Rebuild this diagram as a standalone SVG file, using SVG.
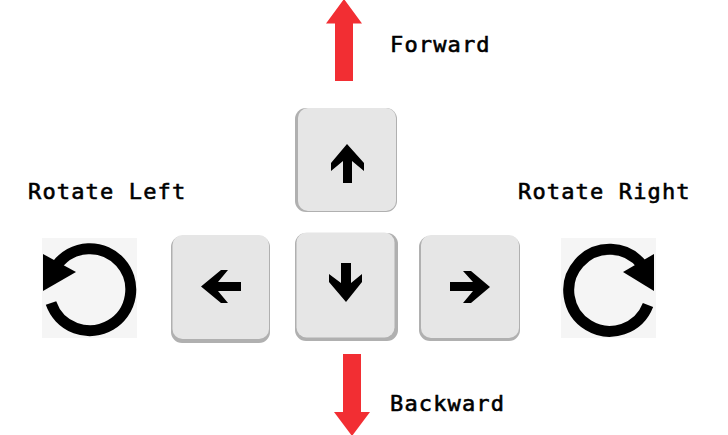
<svg xmlns="http://www.w3.org/2000/svg" width="728" height="435" viewBox="0 0 728 435">
<defs>
<style>
.label{font-family:"DejaVu Sans Mono","Liberation Mono",monospace;font-size:22px;letter-spacing:1.15px;fill:#000;stroke:#000;stroke-width:.6px}
.red{fill:#f22e33}
.edge{fill:#b0b0b0}
.face{fill:#e6e6e6}
.glyph{fill:#000;filter:url(#soft)}
.panel{fill:#f5f5f5}
.ring{fill:none;stroke:#000;stroke-width:11}
</style>
<filter id="soft" x="-10%" y="-10%" width="120%" height="120%"><feGaussianBlur stdDeviation=".6"/></filter>
<filter id="softer" x="-5%" y="-5%" width="110%" height="110%"><feGaussianBlur stdDeviation=".7"/></filter>
</defs>
<rect width="728" height="435" fill="#fff"/>
<g id="connectors">
<polygon class="red" points="335,81 353,81 353,23.500 362,23.500 344,-1 326,23.500 335,23.500"/>
<polygon class="red" points="343,354 361,354 361,412 370,412 352,436 334,412 343,412"/>
</g>
<g id="forward-label"><text class="label" x="390" y="52">Forward</text></g>
<g id="backward-label"><text class="label" x="390" y="411">Backward</text></g>
<g id="rotate-left-label"><text class="label" x="28" y="199">Rotate Left</text></g>
<g id="rotate-right-label"><text class="label" x="518" y="199">Rotate Right</text></g>
<g id="key-up">
<rect class="edge" x="295" y="108" width="102" height="104" rx="11" filter="url(#softer)"/>
<rect class="face" x="298" y="108" width="98" height="103" rx="10"/>
<path class="glyph" d="M343 183V161L331 171V163L347 144L364 163V171L352 161V183Z"/>
</g>
<g id="key-left">
<rect class="edge" x="171" y="236" width="99" height="107" rx="11" filter="url(#softer)"/>
<rect class="face" x="172.500" y="235" width="96.500" height="104" rx="10"/>
<path class="glyph" d="M201 286.500L221 270H228L218 282H241V291H218L228 303H221Z"/>
</g>
<g id="key-down">
<rect class="edge" x="295" y="233" width="103" height="108" rx="11" filter="url(#softer)"/>
<rect class="face" x="296.500" y="232.500" width="98" height="105" rx="10"/>
<path class="glyph" d="M341 263H351V283L362 274V282L346 302L329 282V274L341 283Z"/>
</g>
<g id="key-right">
<rect class="edge" x="419" y="236" width="101" height="105" rx="11" filter="url(#softer)"/>
<rect class="face" x="421" y="235" width="98" height="103" rx="10"/>
<path class="glyph" d="M450 282H473L463 271H471L490 287L471 303H463L473 291H450Z"/>
</g>
<g id="rotate-left">
<rect class="panel" x="42" y="238" width="95" height="100"/>
<path class="ring" d="M51 303A41 41 0 1 0 57 265"/>
<polygon points="43,254 43,291 76,272"/>
</g>
<g id="rotate-right">
<rect class="panel" x="561" y="238" width="95" height="100"/>
<path class="ring" d="M648 305A41 41 0 1 1 642 265"/>
<polygon points="654,254 654,291 623,272"/>
</g>
</svg>
